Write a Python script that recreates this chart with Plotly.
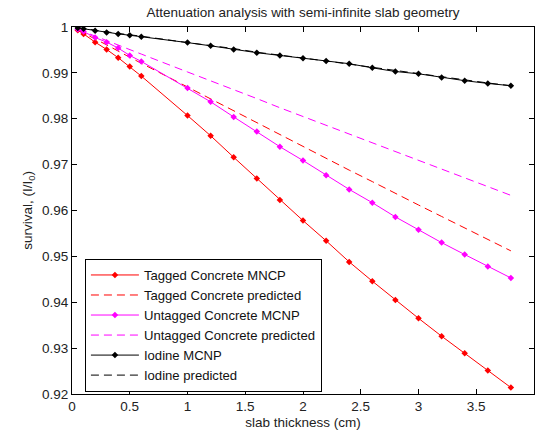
import plotly.graph_objects as go

thickness = [0.05, 0.1, 0.2, 0.3, 0.4, 0.5, 0.6, 1.0, 1.2, 1.4, 1.6, 1.8, 2.0, 2.2, 2.4, 2.6, 2.8, 3.0, 3.2, 3.4, 3.6, 3.8]

tagged_mcnp = [0.9993, 0.9985, 0.9967, 0.9951, 0.9933, 0.9914, 0.9893, 0.9807, 0.9763, 0.9716, 0.9670, 0.9623, 0.9578, 0.9534, 0.9488, 0.9446, 0.9405, 0.9365, 0.9326, 0.9289, 0.9251, 0.9214]
tagged_pred = [0.9993, 0.9987, 0.9974, 0.9961, 0.9947, 0.9934, 0.9921, 0.9869, 0.9843, 0.9817, 0.9791, 0.9765, 0.9739, 0.9714, 0.9688, 0.9663, 0.9637, 0.9612, 0.9587, 0.9562, 0.9537, 0.9512]
untagged_mcnp = [0.9995, 0.9990, 0.9977, 0.9967, 0.9954, 0.9938, 0.9925, 0.9867, 0.9837, 0.9804, 0.9772, 0.9739, 0.9709, 0.9677, 0.9646, 0.9617, 0.9586, 0.9558, 0.9530, 0.9504, 0.9478, 0.9453]
untagged_pred = [0.9995, 0.9990, 0.9980, 0.9971, 0.9961, 0.9951, 0.9941, 0.9902, 0.9883, 0.9863, 0.9844, 0.9824, 0.9805, 0.9786, 0.9767, 0.9747, 0.9728, 0.9709, 0.9690, 0.9671, 0.9652, 0.9633]
iodine_mcnp = [0.9998, 0.9996, 0.9992, 0.9988, 0.9985, 0.9982, 0.9979, 0.9966, 0.9959, 0.9951, 0.9944, 0.9938, 0.9932, 0.9926, 0.9920, 0.9911, 0.9903, 0.9898, 0.9890, 0.9883, 0.9877, 0.9872]
iodine_pred = [0.9998, 0.9997, 0.9993, 0.9989, 0.9986, 0.9983, 0.9980, 0.9966, 0.9960, 0.9953, 0.9945, 0.9939, 0.9932, 0.9926, 0.9919, 0.9912, 0.9905, 0.9898, 0.9892, 0.9885, 0.9878, 0.9872]

x_ticks = [0, 0.5, 1, 1.5, 2, 2.5, 3, 3.5, 4]
x_tick_labels = ["0", "0.5", "1", "1.5", "2", "2.5", "3", "3.5", "4"]
y_ticks = [0.92, 0.93, 0.94, 0.95, 0.96, 0.97, 0.98, 0.99, 1.0]
y_tick_labels = ["0.92", "0.93", "0.94", "0.95", "0.96", "0.97", "0.98", "0.99", "1"]

RED = "#FF0000"
MAG = "#FF00FF"
BLK = "#000000"
DASH = "8px,5px"
FONT = "Arial, Liberation Sans"
TXT = "#222"

fig = go.Figure()

def solid(name, y, color, rank):
    fig.add_trace(go.Scatter(x=thickness, y=y, name=name, mode="lines+markers",
                             legendrank=rank,
                             line=dict(color=color, width=1),
                             marker=dict(symbol="diamond", size=5, color=color)))

def dashed(name, y, color, rank):
    fig.add_trace(go.Scatter(x=thickness, y=y, name=name, mode="lines",
                             legendrank=rank,
                             line=dict(color=color, width=1, dash=DASH)))

# iodine predicted drawn first so that the MCNP line sits on top of it
dashed("Iodine predicted", iodine_pred, BLK, 6)
solid("Tagged Concrete MNCP", tagged_mcnp, RED, 1)
dashed("Tagged Concrete predicted", tagged_pred, RED, 2)
solid("Untagged Concrete MCNP", untagged_mcnp, MAG, 3)
dashed("Untagged Concrete predicted", untagged_pred, MAG, 4)
solid("Iodine MCNP", iodine_mcnp, BLK, 5)

axis_common = dict(showline=True, linecolor="black", linewidth=1, mirror="ticks",
                   ticks="inside", ticklen=5, tickcolor="black", showgrid=False,
                   zeroline=False, tickfont=dict(family=FONT, size=13.5, color=TXT))

fig.update_layout(
    width=537, height=437,
    margin=dict(l=72, r=3, t=27, b=43),
    paper_bgcolor="white", plot_bgcolor="white",
    title=dict(text="Attenuation analysis with semi-infinite slab geometry",
               x=(72 + 534) / 2 / 537, xanchor="center", y=0.972, yanchor="middle",
               font=dict(family=FONT, size=13.5, color=TXT)),
    xaxis=dict(range=[0, 4], tickvals=x_ticks, ticktext=x_tick_labels,
               title=dict(text="slab thickness (cm)", standoff=4,
                          font=dict(family=FONT, size=13.5, color=TXT)),
               **axis_common),
    yaxis=dict(range=[0.92, 1.0], tickvals=y_ticks, ticktext=y_tick_labels,
               title=dict(text="survival, (I/I<sub>0</sub>)", standoff=6,
                          font=dict(family=FONT, size=13.5, color=TXT)),
               **axis_common),
    legend=dict(x=0.028, y=0.368, xanchor="left", yanchor="top",
                bgcolor="white", bordercolor="black", borderwidth=1,
                font=dict(family=FONT, size=13.1, color="#111"),
                itemwidth=48, tracegroupgap=0),
    showlegend=True,
)

fig.write_html("out.html")
